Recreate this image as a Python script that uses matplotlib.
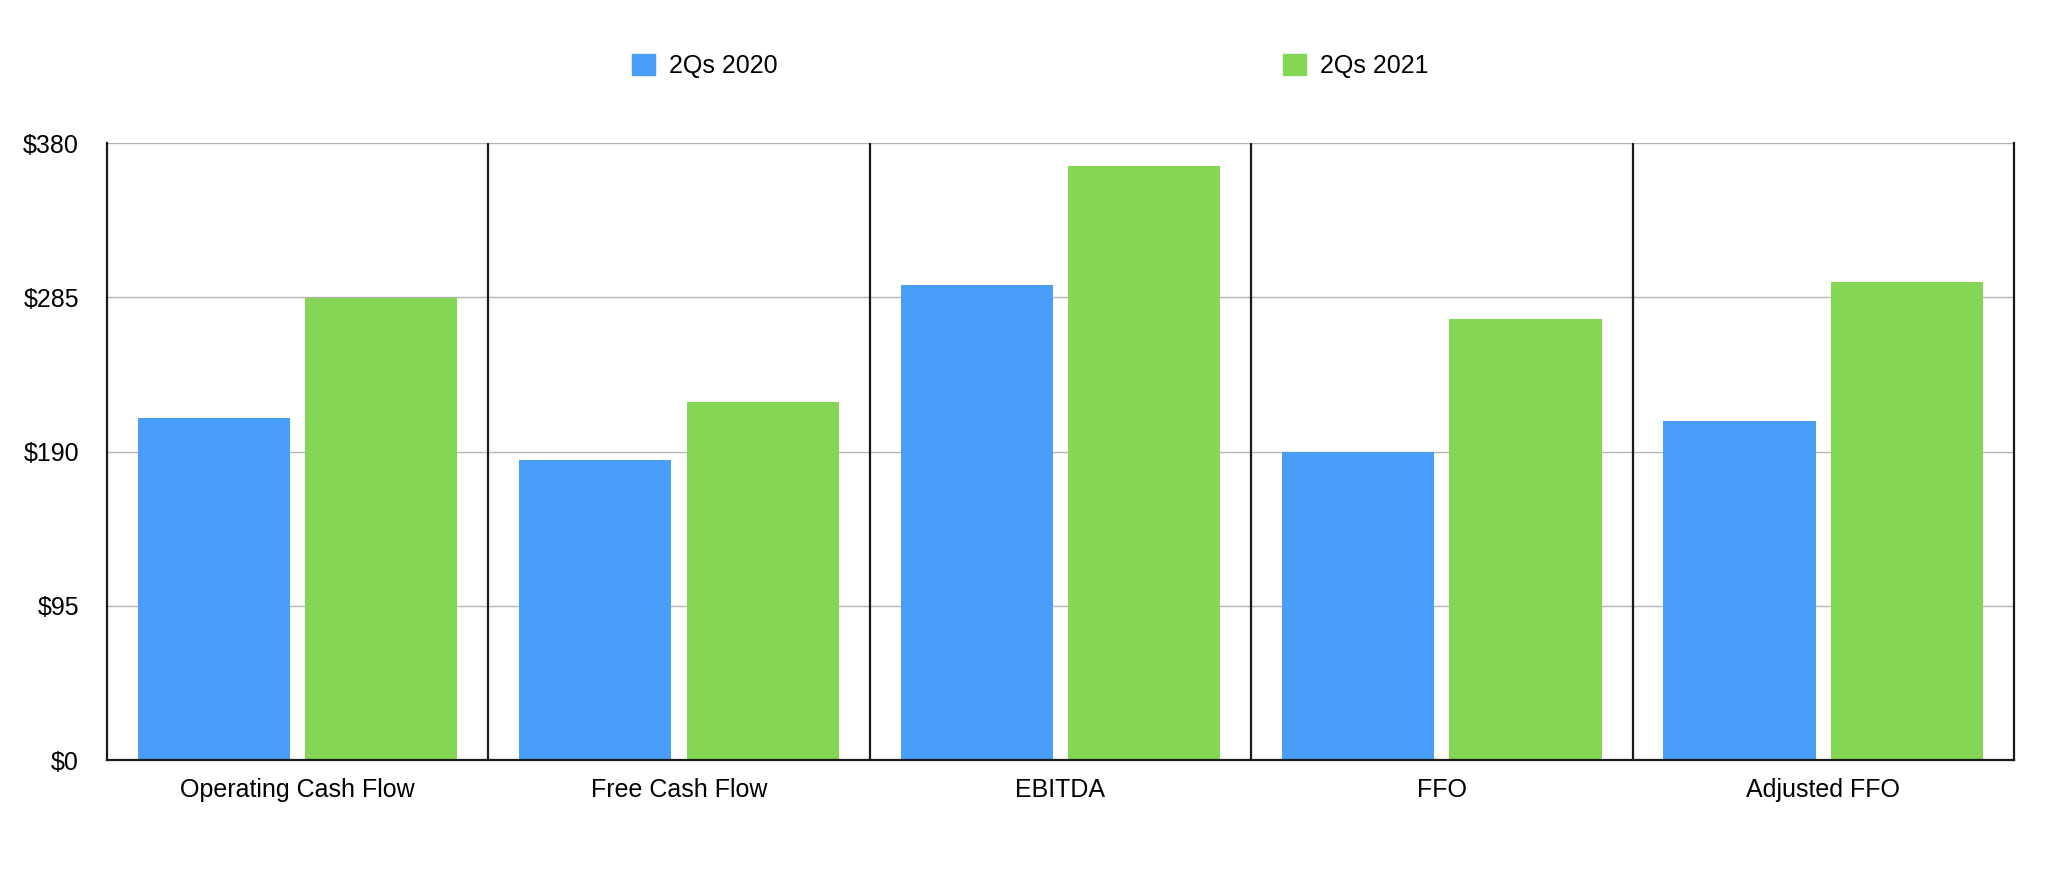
import matplotlib
matplotlib.use("Agg")
import matplotlib.pyplot as plt
from matplotlib.patches import Patch
import numpy as np

categories = ["Operating Cash Flow", "Free Cash Flow", "EBITDA", "FFO", "Adjusted FFO"]
series_names = ["2Qs 2020", "2Qs 2021"]
values_2020 = [210.7, 184.9, 292.7, 189.8, 208.9]
values_2021 = [284.5, 220.6, 366.0, 271.7, 294.5]
yticks = [0, 95, 190, 285, 380]
ytick_labels = ["$0", "$95", "$190", "$285", "$380"]

BLUE = "#489EF8"
GREEN = "#84D654"

plt.rcParams['font.family'] = ['Liberation Sans', 'DejaVu Sans']
FS = 18

fig = plt.figure(figsize=(20.72, 8.84), dpi=100)
ax = fig.add_axes([106.7/2072, 1-760/884, (2014-106.7)/2072, (760-143.3)/884])

x = np.arange(len(categories))
w = 0.399
off = 0.2195
ax.bar(x - off, values_2020, width=w, color=BLUE, zorder=3, label=series_names[0])
ax.bar(x + off, values_2021, width=w, color=GREEN, zorder=3, label=series_names[1])

ax.set_xlim(-0.5, len(categories) - 0.5)
ax.set_ylim(0, 380)
ax.set_yticks(yticks)
ax.set_yticklabels(ytick_labels)
ax.set_xticks(x)
ax.set_xticklabels(categories)
ax.tick_params(axis='y', length=0, pad=20, labelsize=FS)
ax.tick_params(axis='x', length=0, pad=13, labelsize=FS)

for yv in yticks[1:]:
    ax.axhline(yv, color="#b4b4b4", lw=1.0, zorder=1)
for xv in np.arange(0.5, len(categories) - 0.5, 1.0):
    ax.axvline(xv, color="#1a1a1a", lw=1.6, zorder=4)

ax.spines['top'].set_visible(False)
for s in ['left', 'right', 'bottom']:
    ax.spines[s].set_color("#1a1a1a")
    ax.spines[s].set_linewidth(1.6)
    ax.spines[s].set_zorder(5)

handles = [Patch(color=BLUE, label=series_names[0]), Patch(color=GREEN, label=series_names[1])]
fig.legend(handles=handles, loc='center', bbox_to_anchor=(1030/2072, 1-66/884),
           ncol=2, frameon=False, fontsize=FS, handlelength=0.92, handleheight=0.92,
           handletextpad=0.56, columnspacing=20.2, borderaxespad=0)

fig.savefig("out.png", dpi=100, facecolor="white")
